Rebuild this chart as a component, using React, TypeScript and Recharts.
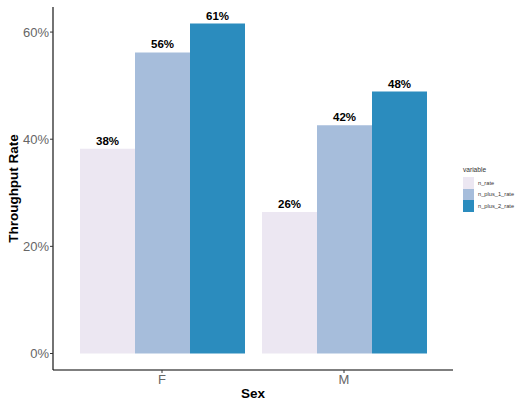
import { BarChart, Bar, XAxis, YAxis, LabelList } from 'recharts';

const categories = ['F', 'M'];
const nRate = [38.2, 26.4];
const nPlus1Rate = [56.2, 42.6];
const nPlus2Rate = [61.6, 48.9];
const yTicks = [0, 20, 40, 60];

const seriesKeys = ['n_rate', 'n_plus_1_rate', 'n_plus_2_rate'];
const seriesColors = ['#ECE7F2', '#A6BDDB', '#2B8CBE'];

const data = categories.map((sex, i) => ({
  sex,
  n_rate: nRate[i],
  n_plus_1_rate: nPlus1Rate[i],
  n_plus_2_rate: nPlus2Rate[i],
}));

const font = '"Liberation Sans", Arial, sans-serif';

function YTitle(props: any) {
  const vb = props.viewBox || {};
  const cy = (vb.y ?? 7) + (vb.height ?? 363) / 2;
  const x = 18;
  return (
    <text x={x} y={cy} transform={`rotate(-90 ${x} ${cy})`} textAnchor="middle"
      fontSize={13.5} fontWeight="bold" fill="#000">
      Throughput Rate
    </text>
  );
}

export default function App() {
  return (
    <div style={{ position: 'absolute', left: 0, top: 0, width: 517, height: 402, background: '#fff', fontFamily: font }}>
      <BarChart width={517} height={402} data={data} margin={{ top: 7, right: 64, left: 0, bottom: 0 }}
        barGap={0} barCategoryGap={9}>
        <XAxis dataKey="sex" height={32} padding={{ left: 18, right: 18 }} tickSize={3} tickMargin={2}
          axisLine={{ stroke: '#000', strokeWidth: 1.1 }} tickLine={{ stroke: '#333' }}
          tick={{ fill: '#666', fontSize: 13 }}
          label={{ value: 'Sex', position: 'insideBottom', offset: 4, fontSize: 13.5, fontWeight: 'bold', fill: '#000' }} />
        <YAxis type="number" width={53} domain={[-3.08, 64.68]} allowDataOverflow ticks={yTicks}
          tickFormatter={(v: number) => `${v}%`} tickSize={3} tickMargin={1}
          axisLine={{ stroke: '#000', strokeWidth: 1.1 }} tickLine={{ stroke: '#333' }}
          tick={{ fill: '#666', fontSize: 13 }}
          label={{ content: (p: any) => <YTitle {...p} /> }} />
        {seriesKeys.map((k, i) => (
          <Bar key={k} dataKey={k} fill={seriesColors[i]} isAnimationActive={false}>
            <LabelList dataKey={k} position="top" offset={4}
              formatter={(v: any) => `${Math.floor(Number(v))}%`}
              style={{ fontSize: 11.5, fontWeight: 'bold', fill: '#000' }} />
          </Bar>
        ))}
      </BarChart>
      <div style={{ position: 'absolute', left: 463, top: 165, fontSize: 6.6, color: '#333' }}>
        <div style={{ height: 12, lineHeight: '10px' }}>variable</div>
        {seriesKeys.map((k, i) => (
          <div key={k} style={{ display: 'flex', alignItems: 'center', height: 11.5 }}>
            <div style={{ width: 11, height: 11.5, background: seriesColors[i] }} />
            <span style={{ marginLeft: 4, fontSize: 5.7 }}>{k}</span>
          </div>
        ))}
      </div>
    </div>
  );
}
